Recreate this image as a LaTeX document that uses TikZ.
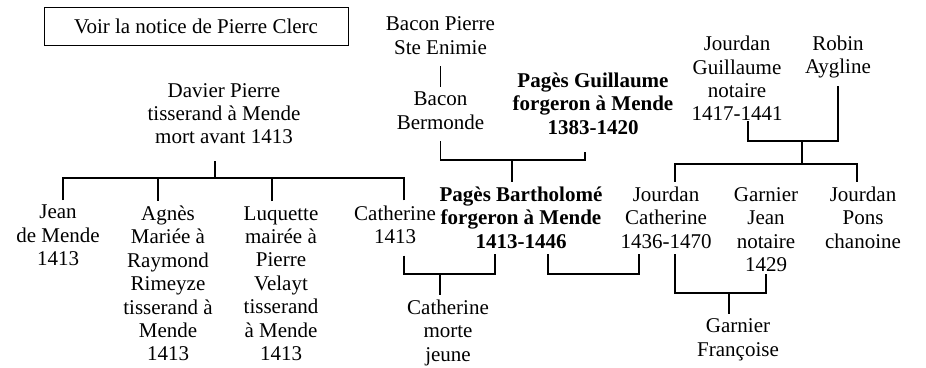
\documentclass[tikz,border=0pt]{standalone}
\usepackage{fontspec}
\setmainfont{Liberation Serif}
\usepackage{tikz}
\usetikzlibrary{positioning,calc}

\begin{document}
\begin{tikzpicture}[
  x=1pt, y=1pt,
  font=\fontsize{21}{23.4}\selectfont,
  pers/.style={align=center, inner sep=5pt, execute at begin node=\strut, execute at end node=\strut},
  bold/.style={pers, font=\fontsize{21}{23.4}\selectfont\bfseries},
  note/.style={draw, line width=0.8pt, inner sep=0pt, minimum width=304pt, minimum height=38pt},
  link/.style={line width=1.9pt}
]
\useasboundingbox (0,2) rectangle (926,369);
\node[note] (notice) at (196, 342.5) {Voir la notice de Pierre Clerc};
\node[pers] (baconp) at (440.5, 330) {Bacon Pierre\\Ste Enimie};
\node[pers] (baconb) at (440.5, 255) {Bacon\\Bermonde};
\node[bold] (guillaume) at (593, 262) {Pagès Guillaume\\forgeron à Mende\\1383-1420};
\node[pers] (jourdang) at (737, 287) {Jourdan\\Guillaume\\notaire\\1417-1441};
\node[pers] (robin) at (838, 311) {Robin\\Aygline};
\node[pers] (davier) at (224, 252) {Davier Pierre\\tisserand à Mende\\mort avant 1413};
\node[pers] (jean) at (58, 130) {Jean\\de Mende\\1413};
\node[pers] (agnes) at (168, 82) {Agnès\\Mariée à\\Raymond\\Rimeyze\\tisserand à\\Mende\\1413};
\node[pers] (luquette) at (281, 82) {Luquette\\mairée à\\Pierre\\Velayt\\tisserand\\à Mende\\1413};
\node[pers] (catherine) at (395, 141) {Catherine\\1413};
\node[bold] (bartholome) at (521, 148) {Pagès Bartholomé\\forgeron à Mende\\1413-1446};
\node[pers] (jourdanc) at (666, 148) {Jourdan\\Catherine\\1436-1470};
\node[pers] (garnierj) at (766, 136) {Garnier\\Jean\\notaire\\1429};
\node[pers] (pons) at (863, 148) {Jourdan\\Pons\\chanoine};
\node[pers] (catjeune) at (448, 35) {Catherine\\morte\\jeune};
\node[pers] (francoise) at (738, 28) {Garnier\\Françoise};
% Bacon side
\draw[link] (baconp) -- (baconb);
\draw[link] (baconb.south) -- ++(0,-19) coordinate (bg) -| ([xshift=-8pt,yshift=-6pt]guillaume.south);
\draw[link] ([xshift=-9pt]bartholome.north) |- (bg);
% Jourdan side
\draw[link] ([xshift=11pt,yshift=12pt]jourdang.south) -- ++(0,-20) coordinate (jr) -| (robin.south);
\draw[link] ([xshift=9pt]jourdanc.north) -- ++(0,18) coordinate (jc) -| ([xshift=-6pt]pons.north);
\draw[link] ([xshift=54pt]jr) |- (jc);
% Davier children
\draw[link] ([xshift=-9pt,yshift=-5pt]davier.south) -- ++(0,-17) coordinate (dv);
\draw[link] ([xshift=5pt]jean.north) |- (dv);
\draw[link] ([xshift=-10pt]agnes.north) |- (dv);
\draw[link] ([xshift=-9pt]luquette.north) |- (dv);
\draw[link] ([xshift=9pt]catherine.north) |- (dv);
% marriages of Bartholome
\draw[link] ([xshift=9pt]catherine.south) -- ++(0,-18) coordinate (cb) -| ([xshift=-26pt,yshift=6pt]bartholome.south);
\draw[link] ([xshift=-8pt]catjeune.north) |- (cb);
\draw[link] ([xshift=27pt,yshift=6pt]bartholome.south) -- ++(0,-20) -| ([xshift=-27pt,yshift=6pt]jourdanc.south);
% Jourdan Catherine and Garnier
\draw[link] ([xshift=9pt,yshift=6pt]jourdanc.south) -- ++(0,-39) coordinate (jg) -| ([yshift=10pt]garnierj.south);
\draw[link] ([xshift=-9pt]francoise.north) |- (jg);
\end{tikzpicture}
\end{document}
